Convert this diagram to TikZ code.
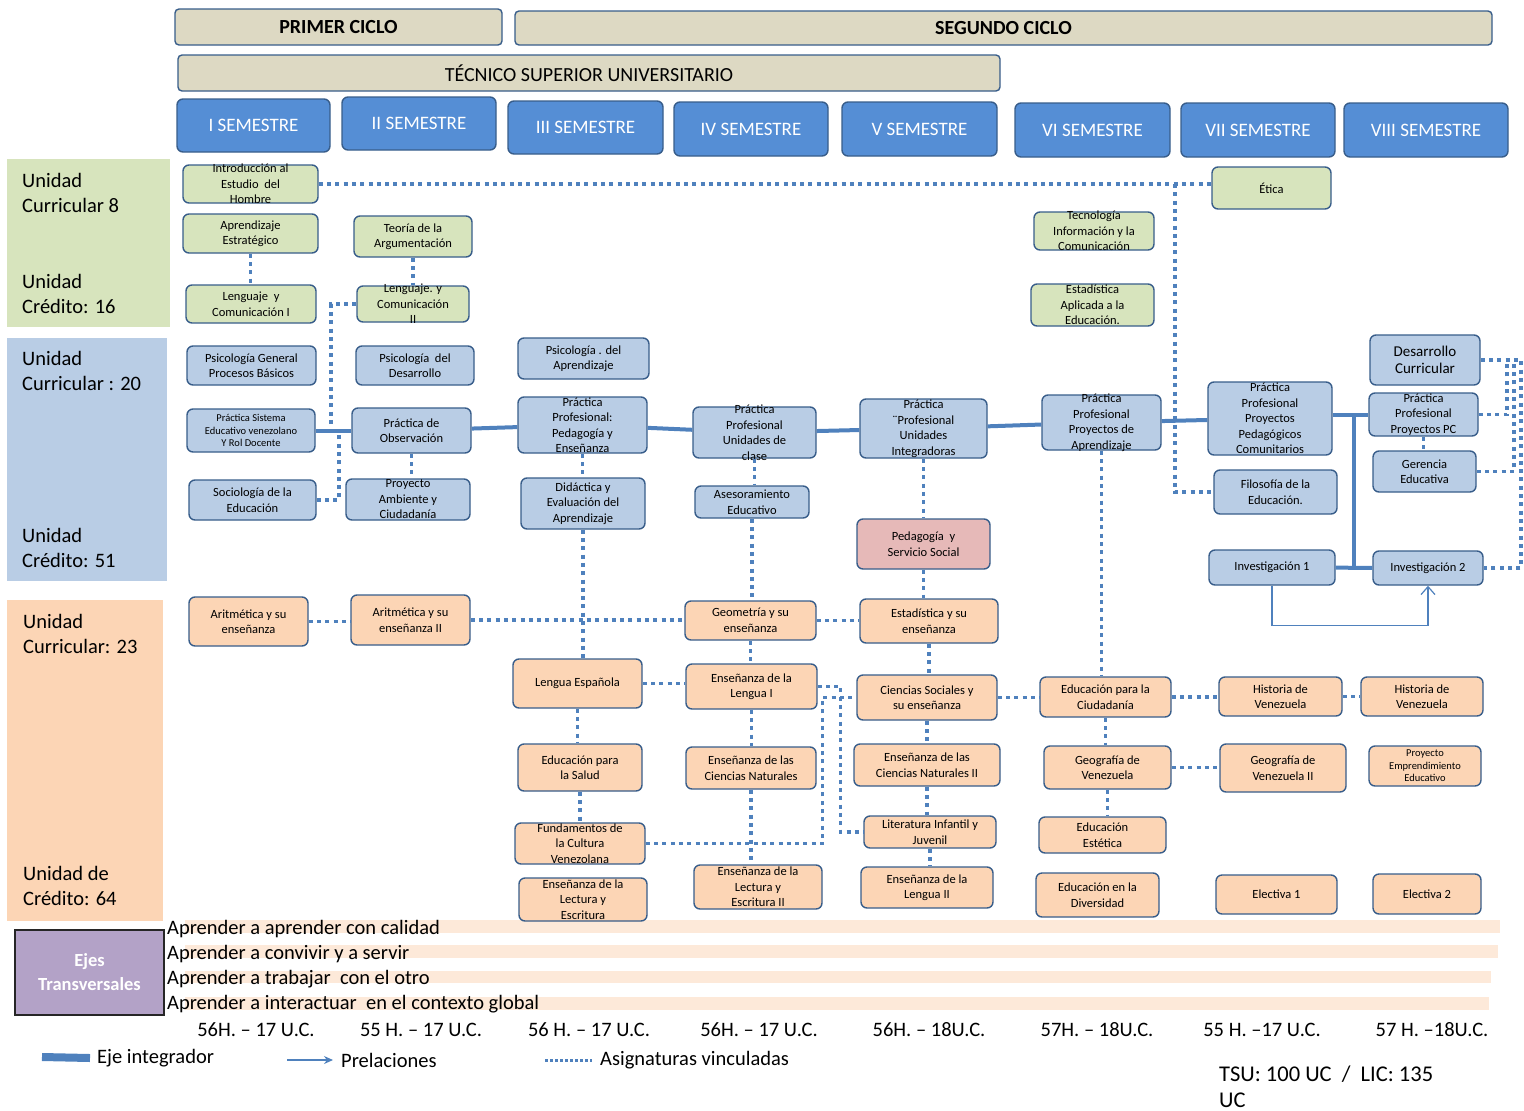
\documentclass[tikz,border=0pt]{standalone}
\usepackage{fontspec}
\setmainfont{Carlito}
\usepackage{tikz}
\usetikzlibrary{arrows.meta}

\definecolor{greenc}{HTML}{D7E4BD}
\definecolor{bluec}{HTML}{B9CDE5}
\definecolor{peachc}{HTML}{FCD5B5}
\definecolor{pinkc}{HTML}{E6B9B8}
\definecolor{tanc}{HTML}{DDD9C3}
\definecolor{semc}{HTML}{558ED5}
\definecolor{bordc}{HTML}{385D8A}
\definecolor{linec}{HTML}{4F81BD}
\definecolor{lilac}{HTML}{B3A2C7}
\definecolor{stripc}{HTML}{FDE9D9}

\begin{document}
\begin{tikzpicture}
  [x=1pt, y=-1pt,
  csty/.style={rectangle, rounded corners=6pt, draw=bordc, line width=1.4pt, inner sep=0pt},
  gsty/.style={csty, fill=greenc},
  bsty/.style={csty, fill=bluec},
  psty/.style={csty, fill=peachc},
  rsty/.style={csty, fill=pinkc},
  hsty/.style={csty, rounded corners=4pt, fill=tanc, font=\fontsize{20}{22}\selectfont},
  ssty/.style={csty, fill=semc, text=white, font=\fontsize{19}{22}\selectfont},
  sz/.style 2 args={minimum width=#1pt, minimum height=#2pt},
  tlab/.style={align=center, inner sep=0pt, font=\fontsize{12.5}{15.5}\selectfont},
  tx/.style={label={[tlab]center:{#1}}},
  txs/.style={label={[tlab, font=\fontsize{10.5}{12.5}\selectfont]center:{#1}}},
  txb/.style={label={[tlab, font=\fontsize{15}{17}\selectfont]center:{#1}}},
  lsty/.style={anchor=west, align=left, inner sep=0pt, font=\fontsize{20.5}{25}\selectfont},
  hrs/.style={inner sep=0pt, font=\fontsize{20.5}{22}\selectfont},
  esty/.style={draw=linec, line width=4pt},
  dsty/.style={draw=linec, line width=3.5pt, dash pattern=on 4pt off 4.3pt},
  asty/.style={draw=linec, line width=1.2pt, -{Straight Barb[length=8pt, width=14pt]}}]
  \useasboundingbox (0,0) rectangle (1524,1111);
  % headers
  \node[hsty, sz={327}{36}, font=\fontsize{20}{22}\selectfont\bfseries] (cic1) at (338.5,27) {PRIMER CICLO};
  \node[hsty, sz={977}{34}, font=\fontsize{20}{22}\selectfont\bfseries] (cic2) at (1003.5,28) {SEGUNDO CICLO};
  \node[hsty, sz={822}{36}] (tsu) at (589,73) {TÉCNICO SUPERIOR UNIVERSITARIO};
  \node[ssty, sz={153}{53}] (s1) at (253.5,125.5) {I SEMESTRE};
  \node[ssty, sz={154}{53}] (s2) at (419,123.5) {II SEMESTRE};
  \node[ssty, sz={155}{53}] (s3) at (585.5,127.5) {III SEMESTRE};
  \node[ssty, sz={154}{54}] (s4) at (751,129) {IV SEMESTRE};
  \node[ssty, sz={155}{54}] (s5) at (919.5,129) {V SEMESTRE};
  \node[ssty, sz={155}{54}] (s6) at (1092.5,130) {VI SEMESTRE};
  \node[ssty, sz={154}{54}] (s7) at (1258,130) {VII SEMESTRE};
  \node[ssty, sz={164}{54}] (s8) at (1426,130) {VIII SEMESTRE};
  % left bands
  \fill[greenc] (7,159) rectangle (170,327);
  \fill[bluec] (7,338) rectangle (167,581);
  \fill[peachc] (7,600) rectangle (163,921);
  \node[lsty] (uc8) at (22,192.5) {Unidad\\Curricular 8};
  \node[lsty] (cr16) at (22,293.5) {Unidad\\Crédito: 16};
  \node[lsty] (uc20) at (22,370.5) {Unidad\\Curricular : 20};
  \node[lsty] (cr51) at (22,547.5) {Unidad\\Crédito: 51};
  \node[lsty] (uc23) at (23,633.5) {Unidad\\Curricular: 23};
  \node[lsty] (cr64) at (23,885.5) {Unidad de\\Crédito: 64};
  % transversal axes
  \fill[stripc] (185,920) rectangle (1500,933);
  \fill[stripc] (185,945) rectangle (1498,958);
  \fill[stripc] (185,971) rectangle (1491,983);
  \fill[stripc] (185,997) rectangle (1489,1010);
  \node[rectangle, draw=black!85, line width=1.4pt, fill=lilac, sz={149}{85}, text=white, align=center,
        font=\fontsize{18.5}{24}\selectfont\bfseries] (ejes) at (89.5,972.5) {Ejes\\Transversales};
  \node[lsty] (ej1) at (167,929) {Aprender a aprender con calidad};
  \node[lsty] (ej2) at (167,954) {Aprender a convivir y a servir};
  \node[lsty] (ej3) at (167,979) {Aprender a trabajar \ con el otro};
  \node[lsty] (ej4) at (167,1004) {Aprender a interactuar \ en el contexto global};
  % semester I
  \node[gsty, sz={135}{38}, tx={Introducción al\\Estudio \ del\\Hombre}] (intro) at (250.5,184) {};
  \node[gsty, sz={135}{39}, tx={Aprendizaje\\Estratégico}] (aprEst) at (250.5,233.5) {};
  \node[gsty, sz={130}{38}, tx={Lenguaje \ y\\Comunicación I}] (lyc1) at (251,304) {};
  \node[bsty, sz={129}{39}, tx={Psicología General\\Procesos Básicos}] (psiGen) at (251.5,365.5) {};
  \node[bsty, sz={128}{43}, txs={Práctica Sistema\\Educativo venezolano\\Y Rol Docente}] (pracSis) at (251,430.5) {};
  \node[bsty, sz={127}{40}, tx={Sociología de la\\Educación}] (socio) at (252.5,500) {};
  \node[psty, sz={119}{49}, tx={Aritmética y su\\enseñanza}] (arit1) at (248.5,621.5) {};
  % semester II
  \node[gsty, sz={118}{41}, tx={Teoría de la\\Argumentación}] (teoArg) at (413,236.5) {};
  \node[gsty, sz={112}{36}, tx={Lenguaje. y\\Comunicación\\II}] (lyc2) at (413,304) {};
  \node[bsty, sz={118}{39}, tx={Psicología \ del\\Desarrollo}] (psiDes) at (415,365.5) {};
  \node[bsty, sz={119}{45}, tx={Práctica de\\Observación}] (pracObs) at (411.5,430.5) {};
  \node[bsty, sz={124}{41}, tx={Proyecto\\Ambiente y\\Ciudadanía}] (proyAmb) at (408,499.5) {};
  \node[psty, sz={119}{50}, tx={Aritmética y su\\enseñanza II}] (arit2) at (410.5,620) {};
  % semester III
  \node[bsty, sz={131}{41}, tx={Psicología . del\\Aprendizaje}] (psiApr) at (583.5,358.5) {};
  \node[bsty, sz={129}{56}, tx={Práctica\\Profesional:\\Pedagogía y\\Enseñanza}] (pracPed) at (582.5,425) {};
  \node[bsty, sz={124}{51}, tx={Didáctica y\\Evaluación del\\Aprendizaje}] (didac) at (583,503.5) {};
  \node[psty, sz={129}{49}, tx={Lengua Española}] (lengEsp) at (577.5,683.5) {};
  \node[psty, sz={124}{47}, tx={Educación para\\la Salud}] (eduSal) at (580,767.5) {};
  \node[psty, sz={130}{41}, tx={Fundamentos de\\la Cultura\\Venezolana}] (fundCult) at (580,843.5) {};
  \node[psty, sz={128}{43}, tx={Enseñanza de la\\Lectura y\\Escritura}] (lectEsc) at (583,899.5) {};
  % semester IV
  \node[bsty, sz={123}{51}, tx={Práctica\\Profesional\\Unidades de\\clase}] (pracUni) at (754.5,432.5) {};
  \node[bsty, sz={114}{32}, tx={Asesoramiento\\Educativo}] (aseso) at (752,502) {};
  \node[psty, sz={131}{39}, tx={Geometría y su\\enseñanza}] (geom) at (750.5,620.5) {};
  \node[psty, sz={131}{45}, tx={Enseñanza de la\\Lengua I}] (ensLen1) at (751.5,686.5) {};
  \node[psty, sz={130}{42}, tx={Enseñanza de las\\Ciencias Naturales}] (cienNat) at (751,768) {};
  \node[psty, sz={128}{44}, tx={Enseñanza de la\\Lectura y\\Escritura II}] (lectEsc2) at (758,887) {};
  % semester V
  \node[bsty, sz={127}{59}, tx={Práctica\\¨Profesional\\Unidades\\Integradoras}] (pracInt) at (923.5,428.5) {};
  \node[rsty, sz={133}{50}, tx={Pedagogía \ y\\Servicio Social}] (pedSoc) at (923.5,544) {};
  \node[psty, sz={138}{44}, tx={Estadística y su\\enseñanza}] (estad) at (929,621) {};
  \node[psty, sz={140}{45}, tx={Ciencias Sociales y\\su enseñanza}] (cienSoc) at (927,697.5) {};
  \node[psty, sz={146}{42}, tx={Enseñanza de las\\Ciencias Naturales II}] (cienNat2) at (927,765) {};
  \node[psty, sz={132}{32}, tx={Literatura Infantil y\\Juvenil}] (litInf) at (930,832) {};
  \node[psty, sz={132}{41}, tx={Enseñanza de la\\Lengua II}] (ensLen2) at (927,887.5) {};
  % semester VI
  \node[gsty, sz={120}{38}, tx={Tecnología\\Información y la\\Comunicación}] (tic) at (1094,231) {};
  \node[gsty, sz={123}{42}, tx={Estadística\\Aplicada a la\\Educación.}] (estApl) at (1092.5,305) {};
  \node[bsty, sz={119}{55}, tx={Práctica\\Profesional\\Proyectos de\\Aprendizaje}] (pracApr) at (1101.5,422.5) {};
  \node[psty, sz={131}{40}, tx={Educación para la\\Ciudadanía}] (eduCiu) at (1105.5,697) {};
  \node[psty, sz={127}{43}, tx={Geografía de\\Venezuela}] (geoVen) at (1107.5,767.5) {};
  \node[psty, sz={127}{36}, tx={Educación\\Estética}] (eduEst) at (1102.5,835) {};
  \node[psty, sz={123}{44}, tx={Educación en la\\Diversidad}] (eduDiv) at (1097.5,895) {};
  % semester VII
  \node[gsty, sz={119}{42}, tx={Ética}] (etica) at (1271.5,188) {};
  \node[bsty, sz={124}{73}, tx={Práctica\\Profesional\\Proyectos\\Pedagógicos\\Comunitarios}] (pracPC) at (1270,418.5) {};
  \node[bsty, sz={123}{44}, tx={Filosofía de la\\Educación.}] (filo) at (1275.5,492) {};
  \node[bsty, sz={126}{35}, tx={Investigación 1}] (inv1) at (1272,567.5) {};
  \node[psty, sz={123}{39}, tx={Historia de\\Venezuela}] (hist1) at (1280.5,696.5) {};
  \node[psty, sz={126}{48}, tx={Geografía de\\Venezuela II}] (geoVen2) at (1283,768) {};
  \node[psty, sz={121}{39}, tx={Electiva 1}] (elec1) at (1276.5,894.5) {};
  % semester VIII
  \node[bsty, sz={110}{50}, txb={Desarrollo\\Curricular}] (desCur) at (1425,360) {};
  \node[bsty, sz={109}{43}, tx={Práctica\\Profesional\\Proyectos PC}] (pracPC2) at (1423.5,414.5) {};
  \node[bsty, sz={103}{41}, tx={Gerencia\\Educativa}] (gerEdu) at (1424.5,471.5) {};
  \node[bsty, sz={110}{34}, tx={Investigación 2}] (inv2) at (1428,568) {};
  \node[psty, sz={122}{39}, tx={Historia de\\Venezuela}] (hist2) at (1422,696.5) {};
  \node[psty, sz={112}{40}, txs={Proyecto\\Emprendimiento\\Educativo}] (proyEmp) at (1425,766) {};
  \node[psty, sz={108}{40}, tx={Electiva 2}] (elec2) at (1427,894) {};
  % eje integrador
  \draw[esty] (pracSis) -- (pracObs);
  \draw[esty] (pracObs) -- (pracPed);
  \draw[esty] (pracPed) -- (pracUni);
  \draw[esty] (pracUni) -- (pracInt);
  \draw[esty] (pracInt) -- (pracApr);
  \draw[esty] (pracApr) -- (pracPC);
  \coordinate (trk) at (1354,415);
  \draw[esty] (pracPC.east |- trk) -- (pracPC2.west |- trk);
  \draw[esty] (trk) -- (trk |- inv2);
  \draw[esty] (inv1) -- (inv2);
  % prelaciones
  \draw[asty] (inv1.south) -- ++(0,40) -| (inv2.south);
  % asignaturas vinculadas
  \coordinate (jEt) at (1175,184);
  \draw[dsty] (intro.east) -- (intro.east -| etica.west);
  \draw[dsty] (jEt) |- (filo.west);
  \draw[dsty] (aprEst.south) -- (aprEst.south |- lyc1.north);
  \draw[dsty] (teoArg.south) -- (teoArg.south |- lyc2.north);
  \coordinate (jL1) at (331,427);
  \coordinate (jL2) at (339,433);
  \draw[dsty] (lyc2.west) -| (jL1);
  \draw[dsty] (socio.east) -| (jL2);
  \draw[dsty] (pracObs.south) -- (pracObs.south |- proyAmb.north);
  \draw[dsty] (arit1.east) -- (arit1.east -| arit2.west);
  \draw[dsty] (arit2.east) -- (arit2.east -| geom.west);
  \draw[dsty] (pracPed.south) -- (pracPed.south |- didac.north);
  \draw[dsty] (didac.south) -- (didac.south |- lengEsp.north);
  \draw[dsty] (lengEsp.south) -- (lengEsp.south |- eduSal.north);
  \draw[dsty] (eduSal.south) -- (eduSal.south |- fundCult.north);
  \draw[dsty] (lengEsp.east) -- (lengEsp.east -| ensLen1.west);
  \draw[dsty] (pracUni.south) -- (pracUni.south |- aseso.north);
  \draw[dsty] (aseso.south) -- (aseso.south |- geom.north);
  \draw[dsty] (geom.south) -- (geom.south |- ensLen1.north);
  \draw[dsty] (ensLen1.south) -- (ensLen1.south |- cienNat.north);
  \draw[dsty] (cienNat.south) -- (cienNat.south |- lectEsc2.north);
  \draw[dsty] (geom.east) -- (geom.east -| estad.west);
  \draw[dsty] (ensLen1.east) -- ++(23,0) |- (litInf.west);
  \draw[dsty] (fundCult.east) -- ++(177,0) |- (cienSoc.west);
  \draw[dsty] (pracInt.south) -- (pracInt.south |- pedSoc.north);
  \draw[dsty] (pedSoc.south) -- (pedSoc.south |- estad.north);
  \draw[dsty] (estad.south) -- (estad.south |- cienSoc.north);
  \draw[dsty] (cienSoc.south) -- (cienSoc.south |- cienNat2.north);
  \draw[dsty] (cienNat2.south) -- (cienNat2.south |- litInf.north);
  \draw[dsty] (litInf.south) -- (litInf.south |- ensLen2.north);
  \draw[dsty] (cienSoc.east) -- (cienSoc.east -| eduCiu.west);
  \draw[dsty] (pracApr.south) -- (pracApr.south |- eduCiu.north);
  \draw[dsty] (eduCiu.south) -- (eduCiu.south |- geoVen.north);
  \draw[dsty] (geoVen.south) -- (geoVen.south |- eduEst.north);
  \draw[dsty] (eduCiu.east) -- (eduCiu.east -| hist1.west);
  \draw[dsty] (hist1.east) -- (hist1.east -| hist2.west);
  \draw[dsty] (geoVen.east) -- (geoVen.east -| geoVen2.west);
  \draw[dsty] (pracPC2.south) -- (pracPC2.south |- gerEdu.north);
  \coordinate (jR1) at (1507,360);
  \coordinate (jR2) at (1514,360);
  \coordinate (jR3) at (1521,568);
  \draw[dsty] (desCur.east) -| (jR3) -- (inv2.east);
  \draw[dsty] (pracPC2.east) -| (jR1);
  \draw[dsty] (gerEdu.east) -| (jR2);
  % hours
  \node[hrs] (h1) at (256,1030) {56H. – 17 U.C.};
  \node[hrs] (h2) at (421,1030) {55 H. – 17 U.C.};
  \node[hrs] (h3) at (589,1030) {56 H. – 17 U.C.};
  \node[hrs] (h4) at (759,1030) {56H. – 17 U.C.};
  \node[hrs] (h5) at (929,1030) {56H. – 18U.C.};
  \node[hrs] (h6) at (1097,1030) {57H. – 18U.C.};
  \node[hrs] (h7) at (1262,1030) {55 H. –17 U.C.};
  \node[hrs] (h8) at (1432,1030) {57 H. –18U.C.};
  % legend
  \node[lsty] (lgEje) at (97,1058) {Eje integrador};
  \node[lsty] (lgPre) at (341,1060) {Prelaciones};
  \node[lsty] (lgVin) at (600,1060) {Asignaturas vinculadas};
  \coordinate (lg1) at (42,1057);
  \coordinate (lg2) at (287,1060);
  \coordinate (lg3) at (545,1060);
  \draw[esty, line width=8pt] (lg1) -- ([xshift=-7pt]lgEje.west);
  \draw[draw=linec, line width=1.2pt, -{Stealth[length=9pt, width=8pt]}] (lg2) -- ([xshift=-8pt]lgPre.west);
  \draw[draw=linec, line width=3pt, dash pattern=on 3pt off 2pt] (lg3) -- ([xshift=-8pt]lgVin.west);
  \node[anchor=north west, align=left, inner sep=0pt, font=\fontsize{22.5}{26}\selectfont] (tot) at (1219,1066) {TSU: 100 UC \ /\ \ LIC: 135\\UC};
\end{tikzpicture}
\end{document}
